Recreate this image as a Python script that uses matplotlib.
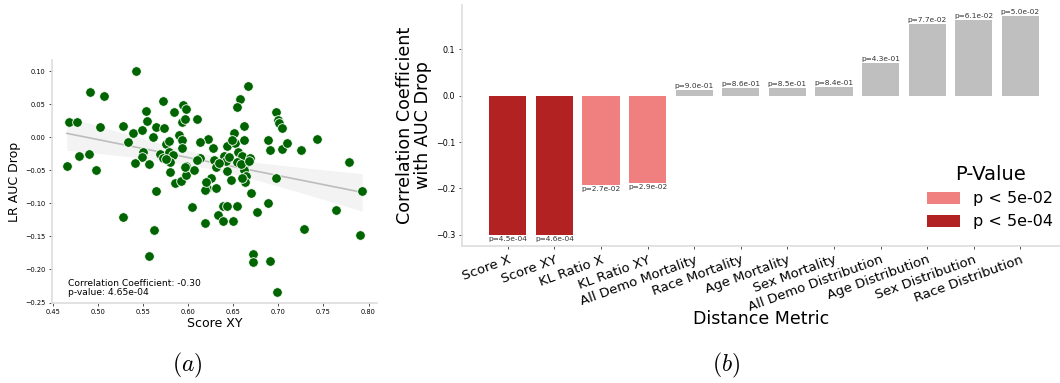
import numpy as np
import matplotlib
matplotlib.use("Agg")
import matplotlib.pyplot as plt
from matplotlib.patches import Patch

# ---------------- data: panel (a) ----------------
score_xy = [0.542, 0.666, 0.491, 0.506, 0.572, 0.594, 0.597, 0.657, 0.654, 0.553,
            0.584, 0.697, 0.467, 0.476, 0.554, 0.593, 0.596, 0.610, 0.699, 0.701,
            0.704, 0.502, 0.527, 0.538, 0.549, 0.564, 0.573, 0.561, 0.590, 0.662,
            0.651, 0.743, 0.533, 0.593, 0.622, 0.613, 0.575, 0.579, 0.593, 0.627,
            0.643, 0.652, 0.662, 0.688, 0.691, 0.704, 0.709, 0.725, 0.550, 0.549,
            0.479, 0.490, 0.465, 0.497, 0.541, 0.556, 0.568, 0.572, 0.578, 0.583,
            0.580, 0.580, 0.585, 0.592, 0.597, 0.597, 0.606, 0.613, 0.610, 0.628,
            0.631, 0.640, 0.642, 0.643, 0.655, 0.659, 0.654, 0.662, 0.668, 0.662,
            0.664, 0.663, 0.621, 0.625, 0.619, 0.631, 0.647, 0.670, 0.697, 0.564,
            0.604, 0.638, 0.643, 0.654, 0.633, 0.638, 0.649, 0.688, 0.676, 0.619,
            0.527, 0.562, 0.728, 0.764, 0.778, 0.793, 0.791, 0.556, 0.672, 0.672,
            0.691, 0.698, 0.658, 0.667, 0.660, 0.645, 0.634, 0.575, 0.596, 0.648,
            0.620]
lr_auc_drop = [0.100, 0.078, 0.068, 0.062, 0.055, 0.048, 0.043, 0.057, 0.045, 0.039,
               0.038, 0.038, 0.023, 0.023, 0.024, 0.023, 0.028, 0.027, 0.026, 0.021,
               0.014, 0.015, 0.017, 0.007, 0.011, 0.015, 0.014, 0.001, 0.004, 0.017,
               0.006, -0.003, -0.007, -0.004, -0.002, -0.008, -0.011, -0.006, -0.017, -0.017,
               -0.013, -0.009, -0.004, -0.005, -0.019, -0.018, -0.009, -0.020, -0.022, -0.030,
               -0.028, -0.025, -0.043, -0.050, -0.039, -0.040, -0.026, -0.032, -0.023, -0.027,
               -0.038, -0.052, -0.069, -0.066, -0.057, -0.044, -0.049, -0.032, -0.035, -0.035,
               -0.045, -0.029, -0.036, -0.051, -0.023, -0.029, -0.037, -0.043, -0.031, -0.050,
               -0.059, -0.067, -0.077, -0.062, -0.080, -0.077, -0.065, -0.085, -0.062, -0.082,
               -0.105, -0.104, -0.104, -0.104, -0.117, -0.126, -0.126, -0.100, -0.113, -0.129,
               -0.121, -0.140, -0.139, -0.110, -0.037, -0.082, -0.148, -0.179, -0.176, -0.189,
               -0.187, -0.234, -0.040, -0.036, -0.062, -0.030, -0.039, -0.033, -0.045, -0.004,
               -0.068]
stats_text = "Correlation Coefficient: -0.30\np-value: 4.65e-04"

# ---------------- data: panel (b) ----------------
metrics = ["Score X", "Score XY", "KL Ratio X", "KL Ratio XY", "All Demo Mortality",
           "Race Mortality", "Age Mortality", "Sex Mortality", "All Demo Distribution",
           "Age Distribution", "Sex Distribution", "Race Distribution"]
corr = [-0.3005, -0.3005, -0.1924, -0.188, 0.0123, 0.0166, 0.0166, 0.0188,
        0.0707, 0.155, 0.1637, 0.1723]
pvals = [4.5e-04, 4.6e-04, 2.7e-02, 2.9e-02, 9.0e-01, 8.6e-01, 8.5e-01, 8.4e-01,
         4.3e-01, 7.7e-02, 6.1e-02, 5.0e-02]
legend_labels = ["p < 5e-02", "p < 5e-04"]

C_DARK = "#b22222"
C_LIGHT = "#f08080"
C_GRAY = "#bfbfbf"
SPINE = "#dddddd"

W, H = 1060, 383
fig = plt.figure(figsize=(W / 100, H / 100), dpi=100)

def style(ax):
    for s in ("top", "right"):
        ax.spines[s].set_visible(False)
    for s in ("left", "bottom"):
        ax.spines[s].set_color(SPINE)
        ax.spines[s].set_linewidth(1.2)

# ---------------- panel (a) ----------------
ax1 = fig.add_axes([52 / W, 1 - 303 / H, 325 / W, 243 / H])
style(ax1)
x = np.array(score_xy)
y = np.array(lr_auc_drop)
b1, b0 = np.polyfit(x, y, 1)
xs = np.linspace(x.min(), x.max(), 100)
ys = b0 + b1 * xs
n = len(x)
resid = y - (b0 + b1 * x)
s = np.sqrt(np.sum(resid ** 2) / (n - 2))
se = s * np.sqrt(1 / n + (xs - x.mean()) ** 2 / np.sum((x - x.mean()) ** 2))
ax1.fill_between(xs, ys - 1.98 * se, ys + 1.98 * se, color="#f3f3f3", lw=0, zorder=1)
ax1.plot(xs, ys, color="#bdbdbd", lw=1.2, zorder=2)
ax1.scatter(x, y, s=48, color="#006400", edgecolors="white", linewidths=0.6, zorder=3)
ax1.set_xticks([0.45, 0.50, 0.55, 0.60, 0.65, 0.70, 0.75, 0.80])
ax1.set_yticks([-0.25, -0.20, -0.15, -0.10, -0.05, 0.00, 0.05, 0.10])
ax1.xaxis.set_major_formatter(matplotlib.ticker.FormatStrFormatter("%.2f"))
ax1.yaxis.set_major_formatter(matplotlib.ticker.FuncFormatter(lambda v, p: ("%.2f" % v).replace("-", "\u2212")))
ax1.tick_params(labelsize=4.8, length=2.5, width=0.6, color="#333333", pad=2)
ax1.set_xlabel("Score XY", fontsize=9, labelpad=1)
ax1.set_ylabel("LR AUC Drop", fontsize=9, labelpad=3)
ax1.text(0.05, 0.025, stats_text, transform=ax1.transAxes, fontsize=6.6,
         ha="left", va="bottom", linespacing=1.0)

# ---------------- panel (b) ----------------
ax2 = fig.add_axes([461.7 / W, 1 - 245.7 / H, (W - 461.7) / W, 240.7 / H])
style(ax2)
colors = [C_DARK if p < 5e-4 else (C_LIGHT if p < 5e-2 else C_GRAY) for p in pvals]
pos = np.arange(len(metrics))
ax2.bar(pos, corr, width=0.8, color=colors, zorder=2)
for i, (c, p) in enumerate(zip(corr, pvals)):
    if c >= 0:
        ax2.text(i, c + 0.003, "p=%.1e" % p, ha="center", va="bottom", fontsize=5.3, color="#333333")
    else:
        ax2.text(i, c - 0.003, "p=%.1e" % p, ha="center", va="top", fontsize=5.3, color="#333333")
ax2.set_xlim(-0.99, 11.85)
ax2.set_ylim(-0.324, 0.196)
ax2.set_yticks([-0.3, -0.2, -0.1, 0.0, 0.1])
ax2.yaxis.set_major_formatter(matplotlib.ticker.FuncFormatter(lambda v, p: ("%.1f" % v).replace("-", "\u2212")))
ax2.set_xticks(pos)
ax2.set_xticklabels(metrics, rotation=20, ha="right", rotation_mode="anchor", fontsize=9.5)
ax2.tick_params(axis="y", labelsize=5.8, length=2.5, width=0.6, color="#333333", pad=2)
ax2.tick_params(axis="x", length=2.5, width=0.6, color="#333333", pad=3)
ax2.set_xlabel("Distance Metric", fontsize=12.5, labelpad=-3)
ax2.set_ylabel("Correlation Coefficient\nwith AUC Drop", fontsize=12.6, labelpad=3, linespacing=1.0)
handles = [Patch(facecolor=C_LIGHT), Patch(facecolor=C_DARK)]
leg = ax2.legend(handles, legend_labels, title="P-Value", frameon=False, fontsize=11.5,
                 title_fontsize=14, loc="center", bbox_to_anchor=(990 / W, 1 - 197 / H),
                 bbox_transform=fig.transFigure, handlelength=2.1, handleheight=0.75,
                 labelspacing=0.5, handletextpad=0.8)

# ---------------- captions ----------------
plt.rcParams["mathtext.fontset"] = "cm"
fig.text(187 / W, 1 - 365 / H, r"$(a)$", fontsize=17, ha="center", va="center")
fig.text(726 / W, 1 - 365 / H, r"$(b)$", fontsize=17, ha="center", va="center")

fig.savefig("out.png", dpi=100)
